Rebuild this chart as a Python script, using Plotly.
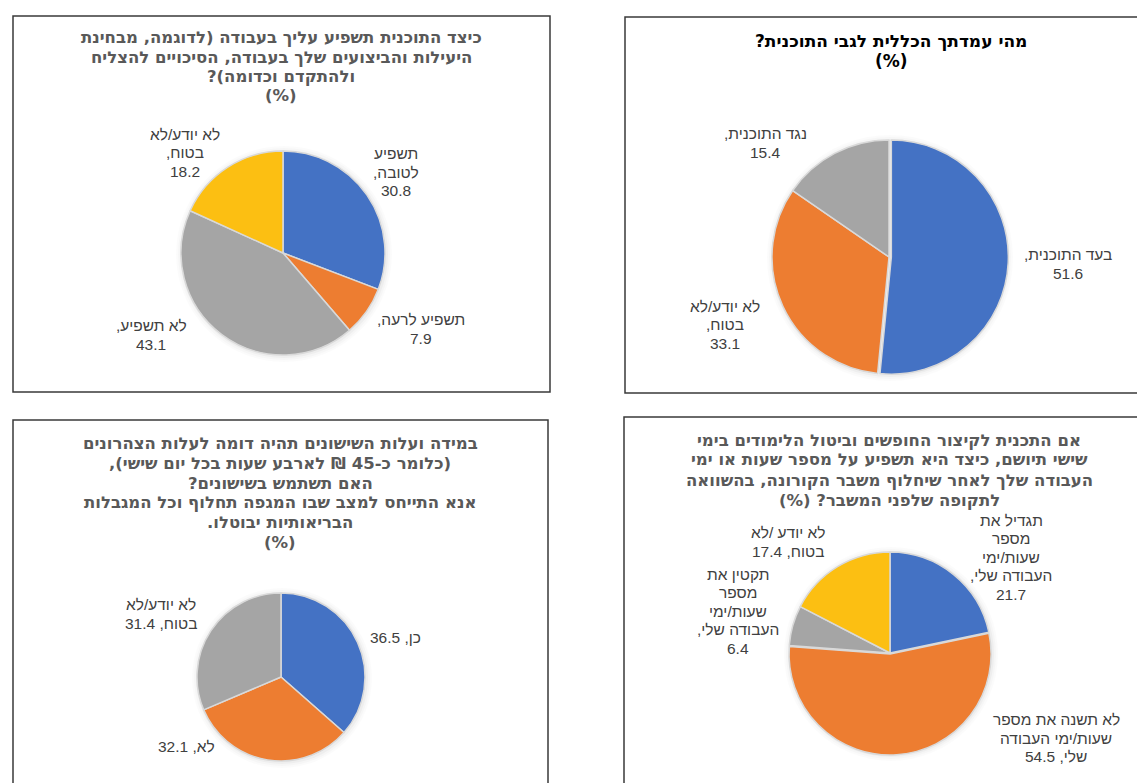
import plotly.graph_objects as go

W, H = 1145, 783

# ---------------- data ----------------
tl_categories = ["תשפיע לטובה", "תשפיע לרעה", "לא תשפיע", "לא יודע/לא בטוח"]
tl_values = [30.8, 7.9, 43.1, 18.2]
tl_wrapped = ["תשפיע<br>לטובה,<br>{}", "תשפיע לרעה,<br>{}", "לא תשפיע,<br>{}", "לא יודע/לא<br>בטוח,<br>{}"]

tr_categories = ["בעד התוכנית", "לא יודע/לא בטוח", "נגד התוכנית"]
tr_values = [51.6, 33.1, 15.4]
tr_wrapped = ["בעד התוכנית,<br>{}", "לא יודע/לא<br>בטוח,<br>{}", "נגד התוכנית,<br>{}"]

bl_categories = ["כן", "לא", "לא יודע/לא בטוח"]
bl_values = [36.5, 32.1, 31.4]
bl_wrapped = ["כן, {}", "לא, {}", "לא יודע/לא<br>בטוח, {}"]

br_categories = ["תגדיל את מספר שעות/ימי העבודה שלי",
                 "לא תשנה את מספר שעות/ימי העבודה שלי",
                 "תקטין את מספר שעות/ימי העבודה שלי",
                 "לא יודע /לא בטוח"]
br_values = [21.7, 54.5, 6.4, 17.4]
br_wrapped = ["תגדיל את<br>מספר<br>שעות/ימי<br>העבודה שלי,<br>{}",
              "לא תשנה את מספר<br>שעות/ימי העבודה<br>שלי, {}",
              "תקטין את<br>מספר<br>שעות/ימי<br>העבודה שלי,<br>{}",
              "לא יודע /לא<br>בטוח, {}"]

tl_title = ["כיצד התוכנית תשפיע עליך בעבודה (לדוגמה, מבחינת",
            "היעילות והביצועים שלך בעבודה, הסיכויים להצליח",
            "ולהתקדם וכדומה)?",
            "(%)"]
tr_title = ["מהי עמדתך הכללית לגבי התוכנית?", "(%)"]
bl_title = ["במידה ועלות השישונים תהיה דומה לעלות הצהרונים",
            "(כלומר כ-45 ₪ לארבע שעות בכל יום שישי),",
            "האם תשתמש בשישונים?",
            "אנא התייחס למצב שבו המגפה תחלוף וכל המגבלות",
            "הבריאותיות יבוטלו.",
            "(%)"]
br_title = ["אם התכנית לקיצור החופשים וביטול הלימודים בימי",
            "שישי תיושם, כיצד היא תשפיע על מספר שעות או ימי",
            "העבודה שלך לאחר שיחלוף משבר הקורונה, בהשוואה",
            "לתקופה שלפני המשבר? (%)"]

BLUE, ORANGE, GRAY, YELLOW = "#4472C4", "#ED7D31", "#A5A5A5", "#FCBF12"
tl_colors = [BLUE, ORANGE, GRAY, YELLOW]
tr_colors = [BLUE, ORANGE, GRAY]
bl_colors = [BLUE, ORANGE, GRAY]
br_colors = [BLUE, ORANGE, GRAY, YELLOW]

LABEL_FONT = "Liberation Sans, Arial, sans-serif"
TITLE_FONT = "DejaVu Sans, sans-serif"
LABEL_SIZE = 15.5
LABEL_SPACING = 18.5


def rtl(s):
    return "\u202b" + s + "\u202c"


def dom(cx, cy, r):
    return dict(x=[(cx - r) / W, (cx + r) / W], y=[1 - (cy + r) / H, 1 - (cy - r) / H])


fig = go.Figure()
annotations = []
shapes = []

charts = [
    # categories, values, colors, wrapped, center, radius, pull, label centers
    (tl_categories, tl_values, tl_colors, tl_wrapped, (275, 245), 102, [0, 0, 0, 0],
     [(388, 164), (413, 321), (143, 327), (177, 145)]),
    (tr_categories, tr_values, tr_colors, tr_wrapped, (881, 249), 117, [0.02, 0, 0],
     [(1060, 256), (717, 317), (757, 135)]),
    (bl_categories, bl_values, bl_colors, bl_wrapped, (273, 669), 84, [0, 0, 0],
     [(387, 629), (178, 738), (153, 606)]),
    (br_categories, br_values, br_colors, br_wrapped, (882, 645), 101, [0, 0.01, 0, 0],
     [(1003, 549), (1048, 730), (730, 603), (780, 534)]),
]

for cats, vals, cols, wrapped, (cx, cy), r, pull, lpos in charts:
    rr = r * (1 + max(pull))
    # soft shadow behind the pie
    for k, a in [(6, 0.015), (4, 0.02), (2, 0.03)]:
        shapes.append(dict(type="circle", xref="paper", yref="paper", layer="below",
                           x0=(cx - r - k + 1) / W, x1=(cx + r + k + 1) / W,
                           y0=1 - (cy + r + k + 1) / H, y1=1 - (cy - r - k + 1) / H,
                           line=dict(width=0), fillcolor=f"rgba(0,0,0,{a})"))
    fig.add_trace(go.Pie(
        labels=cats, values=vals, sort=False, direction="clockwise", rotation=0,
        marker=dict(colors=cols, line=dict(color="#D9D9D9", width=1.5)),
        textinfo="none", hoverinfo="label+value", showlegend=False,
        pull=pull, domain=dom(cx, cy, rr),
    ))
    for v, wtxt, (lx, ly) in zip(vals, wrapped, lpos):
        lines = wtxt.format(v).split("<br>")
        n = len(lines)
        for i, line in enumerate(lines):
            yy = ly + (i - (n - 1) / 2) * LABEL_SPACING
            annotations.append(dict(
                x=lx / W, y=1 - yy / H, xref="paper", yref="paper",
                text=rtl(line), showarrow=False,
                xanchor="center", yanchor="middle",
                font=dict(family=LABEL_FONT, size=LABEL_SIZE, color="#404040"),
            ))

titles = [
    (tl_title, 273, 30, 19, 16.5, "#595959"),
    (tr_title, 883, 33, 20, 17, "#000000"),
    (bl_title, 272, 436, 19.6, 16.5, "#595959"),
    (br_title, 881, 432, 20, 16.5, "#595959"),
]
for lines, cx, y0, sp, fs, col in titles:
    for i, line in enumerate(lines):
        annotations.append(dict(
            x=cx / W, y=1 - (y0 + i * sp) / H, xref="paper", yref="paper",
            text="<b>" + rtl(line) + "</b>", showarrow=False,
            xanchor="center", yanchor="middle",
            font=dict(family=TITLE_FONT, size=fs, color=col),
        ))

boxes = [(5, 8, 542, 384), (617, 9, 1150, 385), (5, 412, 540, 795), (616, 409, 1150, 795)]
for x0, y0, x1, y1 in boxes:
    shapes.append(dict(type="rect", xref="paper", yref="paper",
                       x0=x0 / W, x1=x1 / W, y0=1 - y1 / H, y1=1 - y0 / H,
                       line=dict(color="#3A3A3A", width=1.5), fillcolor="rgba(0,0,0,0)"))

fig.update_layout(
    width=W, height=H, margin=dict(l=0, r=0, t=0, b=0),
    paper_bgcolor="white", plot_bgcolor="white",
    annotations=annotations, shapes=shapes,
)

fig.write_html("out.html")
